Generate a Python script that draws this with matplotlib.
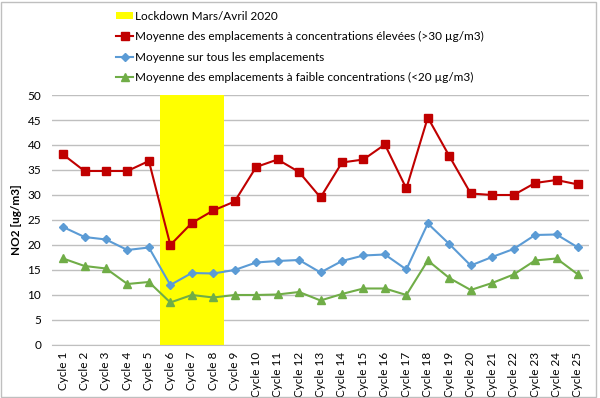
import matplotlib
matplotlib.use("Agg")
import matplotlib.pyplot as plt
from matplotlib.patches import Rectangle

plt.rcParams['font.family'] = ['Lato', 'DejaVu Sans']

# data
cycles = ["Cycle %d" % i for i in range(1, 26)]
lockdown = [0, 0, 0, 0, 0, 50, 50, 50, 0, 0, 0, 0, 0, 0, 0, 0, 0, 0, 0, 0, 0, 0, 0, 0, 0]
high = [38.1, 34.8, 34.8, 34.8, 36.8, 20.0, 24.4, 26.9, 28.7, 35.6, 37.1, 34.6, 29.5,
        36.5, 37.1, 40.1, 31.3, 45.5, 37.8, 30.3, 30.0, 30.0, 32.4, 33.0, 32.1]
mean_all = [23.6, 21.6, 21.1, 19.0, 19.5, 12.0, 14.4, 14.3, 15.0, 16.5, 16.8, 17.0, 14.5,
            16.8, 17.9, 18.1, 15.1, 24.3, 20.2, 15.9, 17.6, 19.2, 22.0, 22.1, 19.5]
low = [17.3, 15.8, 15.3, 12.2, 12.6, 8.5, 10.0, 9.5, 10.0, 10.0, 10.1, 10.6, 8.9,
       10.2, 11.3, 11.3, 10.0, 16.9, 13.4, 11.0, 12.4, 14.1, 16.9, 17.3, 14.1]
yticks = list(range(0, 55, 5))

fig = plt.figure(figsize=(6, 3.98), dpi=100)
ax = fig.add_axes([0.0872, 0.1332, 0.894, 0.6281])

x = list(range(1, len(cycles) + 1))
bars = ax.bar(x, lockdown, width=1.0, color='#FFFF00', zorder=1,
              label='Lockdown Mars/Avril 2020')
l1, = ax.plot(x, high, color='#C00000', marker='s', markersize=5.5, linewidth=1.5, zorder=4,
              label='Moyenne des emplacements à concentrations élevées (>30 µg/m3)')
l2, = ax.plot(x, mean_all, color='#5B9BD5', marker='D', markersize=4, linewidth=1.5, zorder=4,
              label='Moyenne sur tous les emplacements')
l3, = ax.plot(x, low, color='#70AD47', marker='^', markersize=5.5, linewidth=1.5, zorder=4,
              label='Moyenne des emplacements à faible concentrations (<20 µg/m3)')

ax.set_xlim(0.5, len(cycles) + 0.5)
ax.set_ylim(0, 50)
ax.set_yticks(yticks)
ax.set_xticks(x)
ax.set_xticklabels(cycles, rotation=90, fontsize=8.5)
ax.tick_params(axis='y', labelsize=8.5, length=0, pad=8)
ax.tick_params(axis='x', length=0, pad=5)
ax.grid(axis='y', color='#BFBFBF', linewidth=1, zorder=0)
ax.set_axisbelow(True)
for s in ['top', 'left', 'right']:
    ax.spines[s].set_visible(False)
ax.spines['bottom'].set_color('#BFBFBF')
ax.set_ylabel('NO2 [ug/m3]', fontsize=8.5, fontweight='bold', labelpad=4)

fig.legend([bars, l1, l2, l3], [h.get_label() for h in [bars, l1, l2, l3]],
           loc='upper left', bbox_to_anchor=(0.185, 0.985), frameon=False,
           fontsize=8.5, handlelength=1.5, handleheight=0.6, handletextpad=0.15,
           labelspacing=0.8, borderaxespad=0)

# outer chart border
fig.patches.append(Rectangle((1 / 600, 1 / 398), 595 / 600, 395 / 398,
                             transform=fig.transFigure, fill=False,
                             edgecolor='#BFBFBF', linewidth=1))

fig.savefig('out.png', dpi=100)
